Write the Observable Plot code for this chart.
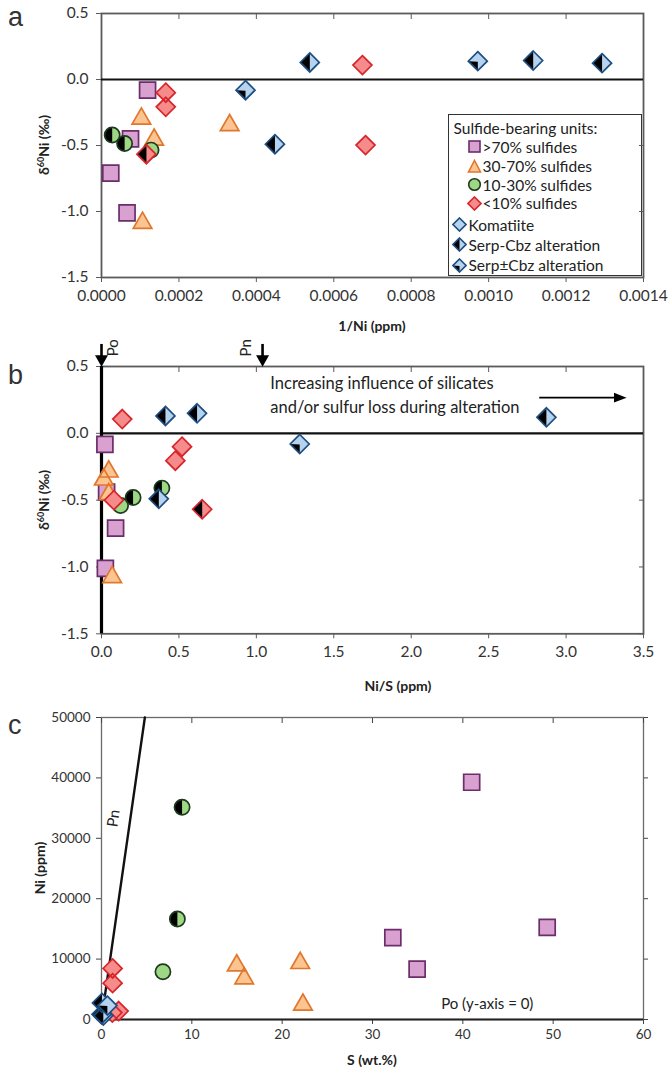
<!DOCTYPE html>
<html><head><meta charset="utf-8">
<script src="https://cdn.jsdelivr.net/npm/d3@7"></script>
<script src="https://cdn.jsdelivr.net/npm/@observablehq/plot@0.6"></script>
<style>
body{margin:0;background:#fff;}
#wrap{position:relative;width:669px;height:1069px;font-family:Lato,"Open Sans",sans-serif;color:#222;overflow:hidden;background:#fff}
.abs{position:absolute;white-space:nowrap;line-height:1}
.xt{font-weight:bold;font-size:14px;transform:translate(-50%,-50%)}
.yt{font-weight:bold;font-size:14px;transform:translate(-50%,-50%) rotate(-90deg)}
.pl{font-family:"Liberation Sans",Arial,sans-serif;font-size:27px;color:#333}
.yt sup{font-size:9px;vertical-align:5px;line-height:0}
#legend{position:absolute;left:448px;top:114px;width:192px;height:160px;border:1.6px solid #333;background:#fff}
#legend .t{position:absolute;font-size:15.5px;transform:translateY(-50%);white-space:nowrap;color:#222}
#legend svg{position:absolute}
</style></head><body><div id="wrap"></div>
<script>
// ---------------- tick values ----------------
const aXTicks = [0, 0.0002, 0.0004, 0.0006, 0.0008, 0.0010, 0.0012, 0.0014];
const dTicks = [-1.5, -1.0, -0.5, 0.0, 0.5];
const bXTicks = [0, 0.5, 1.0, 1.5, 2.0, 2.5, 3.0, 3.5];
const cXTicks = [0, 10, 20, 30, 40, 50, 60];
const cYTicks = [0, 10000, 20000, 30000, 40000, 50000];

// ---------------- panel a: 1/Ni (ppm) vs d60Ni ----------------
const a_sq_x = [0.000119, 0.000075, 0.000024, 0.000066];
const a_sq_y = [-0.08, -0.45, -0.71, -1.01];
const a_tri_x = [0.000103, 0.000331, 0.000136, 0.000106];
const a_tri_y = [-0.28, -0.33, -0.44, -1.07];
const a_circ_x = [0.000128];
const a_circ_y = [-0.535];
const a_circH_x = [0.0000276, 0.0000597];
const a_circH_y = [-0.42, -0.485];
const a_red_x = [0.000166, 0.000166, 0.000674, 0.000682];
const a_red_y = [-0.10, -0.207, 0.109, -0.497];
const a_redH_x = [0.000116];
const a_redH_y = [-0.566];
const a_blueH_x = [0.000538, 0.001115, 0.001293, 0.000448];
const a_blueH_y = [0.129, 0.144, 0.124, -0.49];
const a_blueQ_x = [0.000372, 0.000972];
const a_blueQ_y = [-0.081, 0.139];

// ---------------- panel b: Ni/S vs d60Ni ----------------
const b_sq_x = [0.022, 0.033, 0.091, 0.025];
const b_sq_y = [-0.083, -0.44, -0.71, -1.01];
const b_tri_x = [0.047, 0.015, 0.047, 0.069];
const b_tri_y = [-0.27, -0.33, -0.44, -1.06];
const b_circ_x = [0.123];
const b_circ_y = [-0.54];
const b_circH_x = [0.204, 0.39];
const b_circH_y = [-0.48, -0.41];
const b_red_x = [0.134, 0.52, 0.477, 0.08];
const b_red_y = [0.107, -0.10, -0.205, -0.50];
const b_redH_x = [0.65];
const b_redH_y = [-0.568];
const b_blueH_x = [0.413, 0.617, 0.37, 2.873];
const b_blueH_y = [0.13, 0.15, -0.49, 0.12];
const b_blueQ_x = [1.28];
const b_blueQ_y = [-0.08];
// annotations (data units)
const bMinerals = ["Po", "Pn"];
const bMineralX = [0, 1.04];
const bMineralLabelX = [0.075, 0.935];
const bArrowTop = 0.665, bArrowHeadY = 0.541, bLabelY = 0.64;
const bNote = ["Increasing influence of silicates", "and/or sulfur loss during alteration"];
const bNoteX = 1.09, bNoteY = [0.372, 0.192];
const bTrendX = [2.83, 3.33], bTrendY = 0.267, bTrendHeadX = 3.35;

// ---------------- panel c: S (wt.%) vs Ni (ppm) ----------------
const c_sq_x = [40.98, 32.25, 34.94, 49.34];
const c_sq_y = [39280, 13540, 8340, 15250];
const c_tri_x = [14.97, 15.8, 22.0, 22.3];
const c_tri_y = [9300, 7150, 9700, 2800];
const c_circ_x = [6.8];
const c_circ_y = [7900];
const c_circH_x = [8.92, 8.4];
const c_circH_y = [35140, 16630];
const c_red_x = [1.2, 1.23, 1.23, 1.9];
const c_red_y = [1150, 8450, 6020, 1400];
const c_blueH_x = [0.05, 0.0, 0.2];
const c_blueH_y = [2750, 850, 650];
const c_blueQ_x = [0.65];
const c_blueQ_y = [2300];
const pnLineS = [0, 4.8], pnLineNi = [0, 50000];
const cPnLabel = {S: 1.35, Ni: 33300};
const cPoLabel = {S: 37.6, Ni: 2480, text: "Po (y-axis = 0)"};

// ---------------- symbols ----------------
function sym(f){ return {draw(c, size){ const r = Math.sqrt(size/Math.PI); f(c, r); }}; }
const SQUARE = sym((c,r)=>{c.moveTo(-r,-r);c.lineTo(r,-r);c.lineTo(r,r);c.lineTo(-r,r);c.closePath();});
const TRI = sym((c,r)=>{c.moveTo(0,-r);c.lineTo(r*1.08,r*0.88);c.lineTo(-r*1.08,r*0.88);c.closePath();});
const CIRC = sym((c,r)=>{c.moveTo(r,0);c.arc(0,0,r,0,2*Math.PI);c.closePath();});
const DIAM = sym((c,r)=>{c.moveTo(0,-r);c.lineTo(r,0);c.lineTo(0,r);c.lineTo(-r,0);c.closePath();});
const HALFCIRC = sym((c,r)=>{c.moveTo(0,-r);c.arc(0,0,r,-Math.PI/2,Math.PI/2,true);c.closePath();});
const HALFDIAM = sym((c,r)=>{c.moveTo(0,-r);c.lineTo(-r,0);c.lineTo(0,r);c.closePath();});
const QDIAM = sym((c,r)=>{c.moveTo(-r,0);c.lineTo(0,r);c.lineTo(0,0.05*r);c.closePath();});
const DOWNHEAD = sym((c,r)=>{c.moveTo(-r,-0.9*r);c.lineTo(r,-0.9*r);c.lineTo(0,0.9*r);c.closePath();});
const RIGHTHEAD = sym((c,r)=>{c.moveTo(-0.9*r,-0.7*r);c.lineTo(0.9*r,0);c.lineTo(-0.9*r,0.7*r);c.closePath();});

const ST = {
  sq:   {shape: SQUARE, r: 8,   fill: "#d9a1d0", stroke: "#6b2d6b"},
  tri:  {shape: TRI,    r: 8.6, fill: "#fcc490", stroke: "#e0772e"},
  circ: {shape: CIRC,   r: 7.6, fill: "#9fd884", stroke: "#1e3a1e"},
  circH:{shape: CIRC,   r: 7.6, fill: "#9fd884", stroke: "#1e3a1e", overlay: HALFCIRC},
  red:  {shape: DIAM,   r: 9.5, fill: "#f58b8b", stroke: "#d7262b"},
  redH: {shape: DIAM,   r: 9.5, fill: "#f58b8b", stroke: "#d7262b", overlay: HALFDIAM},
  blueH:{shape: DIAM,   r: 9.5, fill: "#b5d2ef", stroke: "#1d4e7f", overlay: HALFDIAM},
  blueQ:{shape: DIAM,   r: 9.5, fill: "#b5d2ef", stroke: "#1d4e7f", overlay: QDIAM}
};
function pts(xs, ys, st){
  const d = xs.map((x,i)=>({x, y: ys[i]}));
  const m = [Plot.dot(d, {x:"x", y:"y", r: st.r, symbol: st.shape, fill: st.fill, stroke: "none"})];
  if (st.overlay) m.push(Plot.dot(d, {x:"x", y:"y", r: st.r, symbol: st.overlay, fill: "#000", stroke: "none"}));
  m.push(Plot.dot(d, {x:"x", y:"y", r: st.r, symbol: st.shape, fill: "none", stroke: st.stroke, strokeWidth: 1.7}));
  return m;
}
const FONT = 'Lato, "Open Sans", sans-serif';
const style = (fs)=>({fontFamily: FONT, fontSize: fs, color: "#333", background: "transparent", overflow: "visible"});
const f1 = d => d.toFixed(1);
const blank = () => "";

// ---------------- panel a ----------------
const plotA = Plot.plot({
  width: 669, height: 312, marginLeft: 101, marginRight: 26, marginTop: 13, marginBottom: 35,
  x: {domain: [0, 0.0014], label: null}, y: {domain: [-1.5, 0.5], label: null},
  style: style("15.5px"),
  marks: [
    Plot.frame({stroke: "#5a5a5a", strokeWidth: 1.8}),
    Plot.axisX({ticks: aXTicks, tickFormat: d => d.toFixed(4), tickSize: 5, tickPadding: 7, stroke: "#5a5a5a", label: null}),
    Plot.axisX({anchor: "top", ticks: aXTicks, tickFormat: blank, tickSize: -5, stroke: "#5a5a5a", label: null}),
    Plot.axisY({ticks: dTicks, tickFormat: f1, tickSize: 5, tickPadding: 8, stroke: "#5a5a5a", label: null}),
    Plot.axisY({anchor: "right", ticks: dTicks, tickFormat: blank, tickSize: -5, stroke: "#5a5a5a", label: null}),
    Plot.ruleY([0], {stroke: "#111", strokeWidth: 2.2}),
    ...pts(a_sq_x, a_sq_y, ST.sq),
    ...pts(a_tri_x, a_tri_y, ST.tri),
    ...pts(a_circ_x, a_circ_y, ST.circ),
    ...pts(a_circH_x, a_circH_y, ST.circH),
    ...pts(a_red_x, a_red_y, ST.red),
    ...pts(a_redH_x, a_redH_y, ST.redH),
    ...pts(a_blueH_x, a_blueH_y, ST.blueH),
    ...pts(a_blueQ_x, a_blueQ_y, ST.blueQ)
  ]
});

// ---------------- panel b ----------------
const plotB = Plot.plot({
  width: 669, height: 338, marginLeft: 101, marginRight: 26, marginTop: 34, marginBottom: 36.7,
  x: {domain: [0, 3.5], label: null}, y: {domain: [-1.5, 0.5], label: null},
  style: style("15.5px"),
  marks: [
    Plot.frame({stroke: "#5a5a5a", strokeWidth: 1.8}),
    Plot.axisX({ticks: bXTicks, tickFormat: f1, tickSize: 5, tickPadding: 7, stroke: "#5a5a5a", label: null}),
    Plot.axisX({anchor: "top", ticks: bXTicks, tickFormat: blank, tickSize: -5, stroke: "#5a5a5a", label: null}),
    Plot.axisY({ticks: dTicks, tickFormat: f1, tickSize: 5, tickPadding: 8, stroke: "#5a5a5a", label: null}),
    Plot.axisY({anchor: "right", ticks: dTicks, tickFormat: blank, tickSize: -5, stroke: "#5a5a5a", label: null}),
    Plot.ruleY([0], {stroke: "#111", strokeWidth: 2.2}),
    Plot.ruleX([0], {stroke: "#000", strokeWidth: 3.2}),
    // Po / Pn arrows
    Plot.ruleX(bMineralX, {y1: bArrowTop, y2: bArrowHeadY, stroke: "#000", strokeWidth: 2.6}),
    Plot.dot(bMineralX, {x: d => d, y: bArrowHeadY, r: 6.5, symbol: DOWNHEAD, fill: "#000", stroke: "none"}),
    Plot.text(bMinerals, {x: (d,i) => bMineralLabelX[i], y: bLabelY, text: d => d, rotate: -90, fontSize: 15, fill: "#222"}),
    Plot.text(bNote, {x: bNoteX, y: (d,i) => bNoteY[i], text: d => d, textAnchor: "start", fontSize: 16.5, fill: "#222"}),
    Plot.ruleY([bTrendY], {x1: bTrendX[0], x2: bTrendX[1], stroke: "#000", strokeWidth: 1.6}),
    Plot.dot([bTrendY], {x: bTrendHeadX, y: d => d, r: 7, symbol: RIGHTHEAD, fill: "#000", stroke: "none"}),
    ...pts(b_sq_x, b_sq_y, ST.sq),
    ...pts(b_tri_x, b_tri_y, ST.tri),
    ...pts(b_circ_x, b_circ_y, ST.circ),
    ...pts(b_circH_x, b_circH_y, ST.circH),
    ...pts(b_red_x, b_red_y, ST.red),
    ...pts(b_redH_x, b_redH_y, ST.redH),
    ...pts(b_blueH_x, b_blueH_y, ST.blueH),
    ...pts(b_blueQ_x, b_blueQ_y, ST.blueQ)
  ]
});

// ---------------- panel c ----------------
const plotC = Plot.plot({
  width: 669, height: 355, marginLeft: 101, marginRight: 26, marginTop: 22, marginBottom: 31,
  x: {domain: [0, 60], label: null}, y: {domain: [0, 50000], label: null},
  style: style("13.5px"),
  marks: [
    Plot.frame({stroke: "#6a6a6a", strokeWidth: 1.3}),
    Plot.axisX({ticks: cXTicks, tickFormat: d => String(d), tickSize: 5, tickPadding: 5, stroke: "#444", label: null}),
    Plot.axisX({anchor: "top", ticks: cXTicks, tickFormat: blank, tickSize: -5, stroke: "#444", label: null}),
    Plot.axisY({ticks: cYTicks, tickFormat: d => String(d), tickSize: 5, tickPadding: 6, stroke: "#444", label: null}),
    Plot.axisY({anchor: "right", ticks: cYTicks, tickFormat: blank, tickSize: 4, stroke: "#444", label: null}),
    Plot.ruleY([0], {stroke: "#222", strokeWidth: 1.8}),
    Plot.line(pnLineS.map((s,i)=>({s, n: pnLineNi[i]})), {x: "s", y: "n", stroke: "#111", strokeWidth: 2.4}),
    Plot.text([cPnLabel], {x: "S", y: "Ni", text: () => "Pn", rotate: -82, fontSize: 15, fill: "#222"}),
    Plot.text([cPoLabel], {x: "S", y: "Ni", text: "text", textAnchor: "start", fontSize: 15, fill: "#222"}),
    ...pts(c_sq_x, c_sq_y, ST.sq),
    ...pts(c_tri_x, c_tri_y, ST.tri),
    ...pts(c_circ_x, c_circ_y, ST.circ),
    ...pts(c_circH_x, c_circH_y, ST.circH),
    ...pts(c_red_x, c_red_y, ST.red),
    ...pts(c_blueH_x, c_blueH_y, ST.blueH),
    ...pts(c_blueQ_x, c_blueQ_y, ST.blueQ)
  ]
});

// ---------------- assemble ----------------
const wrap = document.getElementById("wrap");
function put(html, cls, x, y){ const e = document.createElement("div"); e.className = "abs " + cls; e.style.left = x + "px"; e.style.top = y + "px"; e.innerHTML = html; wrap.appendChild(e); return e; }

// legend (beneath plot a's svg)
const legendItems = [
  {label: "Sulfide-bearing units:", icon: null, ix: 0, tx: 4.5, y: 12.5},
  {label: ">70% sulfides", icon: "sq", ix: 25, tx: 33.5, y: 31.5},
  {label: "30-70% sulfides", icon: "tri", ix: 25, tx: 33.5, y: 51},
  {label: "10-30% sulfides", icon: "circ", ix: 25, tx: 33.5, y: 69.5},
  {label: "<10% sulfides", icon: "red", ix: 25, tx: 33.5, y: 88},
  {label: "Komatiite", icon: "kom", ix: 10, tx: 19.5, y: 109.5},
  {label: "Serp-Cbz alteration", icon: "blueH", ix: 10, tx: 19.5, y: 129.5},
  {label: "Serp\u00b1Cbz alteration", icon: "blueQ", ix: 10, tx: 19.5, y: 150}
];
function icon(kind){
  const s = 'stroke-width="1.6"';
  switch(kind){
    case "sq": return `<rect x="2" y="2" width="11" height="11" fill="${ST.sq.fill}" stroke="${ST.sq.stroke}" ${s}/>`;
    case "tri": return `<path d="M7.5,1.5L13.5,13L1.5,13Z" fill="${ST.tri.fill}" stroke="${ST.tri.stroke}" ${s}/>`;
    case "circ": return `<circle cx="7.5" cy="7.5" r="5.8" fill="${ST.circ.fill}" stroke="${ST.circ.stroke}" ${s}/>`;
    case "red": return `<path d="M7.5,1L14,7.5L7.5,14L1,7.5Z" fill="${ST.red.fill}" stroke="${ST.red.stroke}" ${s}/>`;
    case "kom": return `<path d="M7.5,1L14,7.5L7.5,14L1,7.5Z" fill="${ST.blueH.fill}" stroke="${ST.blueH.stroke}" ${s}/>`;
    case "blueH": return `<path d="M7.5,1L14,7.5L7.5,14L1,7.5Z" fill="${ST.blueH.fill}"/><path d="M7.5,1L1,7.5L7.5,14Z" fill="#000"/><path d="M7.5,1L14,7.5L7.5,14L1,7.5Z" fill="none" stroke="${ST.blueH.stroke}" ${s}/>`;
    case "blueQ": return `<path d="M7.5,1L14,7.5L7.5,14L1,7.5Z" fill="${ST.blueH.fill}"/><path d="M1,7.5L7.5,14L7.5,8Z" fill="#000"/><path d="M7.5,1L14,7.5L7.5,14L1,7.5Z" fill="none" stroke="${ST.blueH.stroke}" ${s}/>`;
  }
}
const leg = document.createElement("div"); leg.id = "legend"; wrap.appendChild(leg);
legendItems.forEach(it => {
  if (it.icon) { const sv = document.createElementNS("http://www.w3.org/2000/svg", "svg"); sv.setAttribute("width", 15); sv.setAttribute("height", 15); sv.style.left = (it.ix - 7.5) + "px"; sv.style.top = (it.y - 7.5) + "px"; sv.innerHTML = icon(it.icon); leg.appendChild(sv); }
  const t = document.createElement("div"); t.className = "t"; t.style.left = it.tx + "px"; t.style.top = it.y + "px"; t.textContent = it.label; leg.appendChild(t);
});

function addPlot(p, top){ const e = document.createElement("div"); e.className = "abs"; e.style.left = "0px"; e.style.top = top + "px"; e.appendChild(p); wrap.appendChild(e); }
addPlot(plotA, 0);
addPlot(plotB, 332);
addPlot(plotC, 695);

// titles and panel letters
put("a", "pl", 8, 4);
put("b", "pl", 8, 362);
put("c", "pl", 8, 712);
put("1/Ni (ppm)", "xt", 372, 326);
put("Ni/S (ppm)", "xt", 398, 686);
put("S (wt.%)", "xt", 372, 1060);
put("\u03b4<sup>60</sup>Ni (\u2030)", "yt", 44, 145);
put("\u03b4<sup>60</sup>Ni (\u2030)", "yt", 44, 500);
put("Ni (ppm)", "yt", 40, 868);
</script></body></html>
